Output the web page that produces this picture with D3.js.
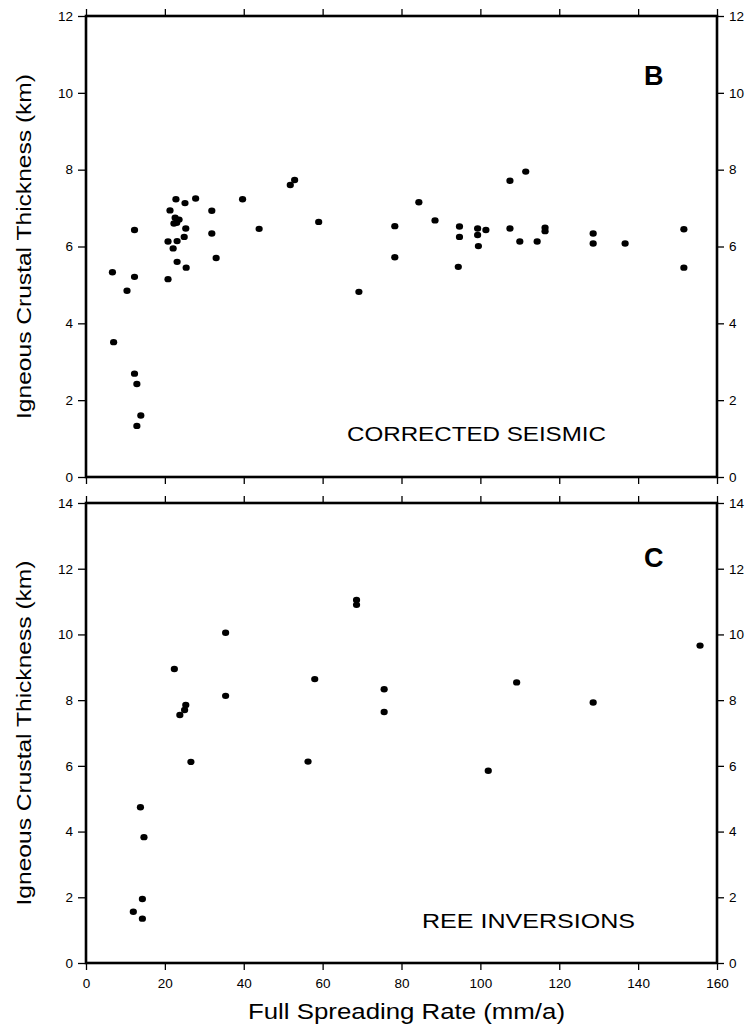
<!DOCTYPE html>
<html><head><meta charset="utf-8">
<script src="https://cdn.jsdelivr.net/npm/d3@7/dist/d3.min.js"></script>
<style>html,body{margin:0;padding:0;background:#fff;}svg{display:block;}</style>
</head><body>
<script>
// Panel B: corrected seismic
const seismicRate = [6.7,10.4,12.3,12.3,7.0,12.3,12.9,13.9,12.9,20.8,20.8,22.1,23.1,21.3,22.8,25.1,27.8,22.6,23.6,22.3,23.0,25.3,24.9,23.1,25.4,31.9,31.9,33.0,39.7,43.9,51.8,52.9,59.0,69.2,78.3,78.3,84.4,88.5,94.7,94.7,94.4,99.3,99.3,99.5,101.4,107.5,107.5,111.5,110.0,114.4,116.4,116.4,128.6,128.6,136.7,151.6,151.6];
const seismicThick = [5.33,4.85,6.43,5.21,3.51,2.69,2.42,1.60,1.33,5.15,6.13,5.95,6.14,6.94,7.23,7.13,7.25,6.75,6.70,6.60,6.62,6.47,6.25,5.60,5.45,6.93,6.34,5.70,7.23,6.46,7.60,7.73,6.64,4.82,6.53,5.72,7.15,6.68,6.52,6.25,5.47,6.47,6.30,6.01,6.43,7.71,6.47,7.95,6.13,6.13,6.49,6.40,6.34,6.08,6.08,6.45,5.45];
// Panel C: REE inversions
const reeRate = [12.0,14.3,14.3,13.8,14.7,22.4,23.8,25.0,25.3,26.6,35.4,35.4,56.3,58.0,68.6,68.6,75.6,75.6,102.0,109.2,128.6,155.7];
const reeThick = [1.56,1.35,1.95,4.74,3.83,8.95,7.55,7.70,7.85,6.12,10.05,8.13,6.13,8.64,11.05,10.90,8.33,7.64,5.85,8.54,7.93,9.66];

const xTicks = [0,20,40,60,80,100,120,140,160];
const yTicksB = [0,2,4,6,8,10,12];
const yTicksC = [0,2,4,6,8,10,12,14];
const xTitle = "Full Spreading Rate (mm/a)";
const yTitle = "Igneous Crustal Thickness (km)";

const W = 753, H = 1028;
const svg = d3.select("body").append("svg").attr("width", W).attr("height", H);
const L = 86, R = 717;
const x = d3.scaleLinear().domain([0,160]).range([L,R]);

const panels = [
  {top:16, bottom:477, max:12, ticks:yTicksB, xs:seismicRate, ys:seismicThick, label:"CORRECTED SEISMIC", lx:347, ly:441, lw:259, letter:"B", bx:644, by:85, xlabels:false},
  {top:503, bottom:963, max:14, ticks:yTicksC, xs:reeRate, ys:reeThick, label:"REE INVERSIONS", lx:422, ly:928, lw:213, letter:"C", bx:644, by:567, xlabels:true}
];

const font = "'Liberation Sans', Arial, Helvetica, sans-serif";

panels.forEach(p => {
  const y = d3.scaleLinear().domain([0,p.max]).range([p.bottom,p.top]);
  const g = svg.append("g");
  const styleAxis = sel => {
    sel.select(".domain").remove();
    sel.selectAll(".tick line").attr("stroke","#000").attr("stroke-width",1.3);
    sel.selectAll(".tick text").attr("font-family",font).attr("font-size",13.5).attr("fill","#000");
  };
  g.append("g").attr("transform",`translate(${L},0)`)
    .call(d3.axisLeft(y).tickValues(p.ticks).tickSize(8).tickPadding(5).tickFormat(d3.format("d"))).call(styleAxis);
  g.append("g").attr("transform",`translate(${R},0)`)
    .call(d3.axisRight(y).tickValues(p.ticks).tickSize(7).tickPadding(5).tickFormat(d3.format("d"))).call(styleAxis);
  g.append("g").attr("transform",`translate(0,${p.top})`)
    .call(d3.axisTop(x).tickValues(xTicks).tickSize(7).tickFormat("")).call(styleAxis);
  g.append("g").attr("transform",`translate(0,${p.bottom})`)
    .call(d3.axisBottom(x).tickValues(xTicks).tickSize(7).tickPadding(8).tickFormat(p.xlabels ? d3.format("d") : "")).call(styleAxis);

  g.append("rect").attr("x",L).attr("y",p.top).attr("width",R-L).attr("height",p.bottom-p.top)
    .attr("fill","none").attr("stroke","#000").attr("stroke-width",2.6);

  g.append("g").selectAll("ellipse").data(p.xs.map((v,i)=>[v,p.ys[i]])).join("ellipse")
    .attr("cx",d=>x(d[0])).attr("cy",d=>y(d[1])).attr("rx",3.6).attr("ry",3.2).attr("fill","#000");

  g.append("text").attr("x",p.lx).attr("y",p.ly).attr("font-family",font).attr("font-size",21)
    .attr("textLength",p.lw).attr("lengthAdjust","spacingAndGlyphs").text(p.label);
  g.append("text").attr("x",p.bx).attr("y",p.by).attr("font-family",font).attr("font-size",27)
    .attr("font-weight","bold").text(p.letter);

  const cy = (p.top+p.bottom)/2;
  g.append("text").attr("transform",`translate(31,${cy}) rotate(-90)`)
    .attr("text-anchor","middle").attr("font-family",font).attr("font-size",21)
    .attr("textLength",345).attr("lengthAdjust","spacingAndGlyphs").text(yTitle);
});

svg.append("text").attr("x",248).attr("y",1019).attr("font-family",font).attr("font-size",21.5)
  .attr("textLength",317).attr("lengthAdjust","spacingAndGlyphs").text(xTitle);
</script>
</body></html>
